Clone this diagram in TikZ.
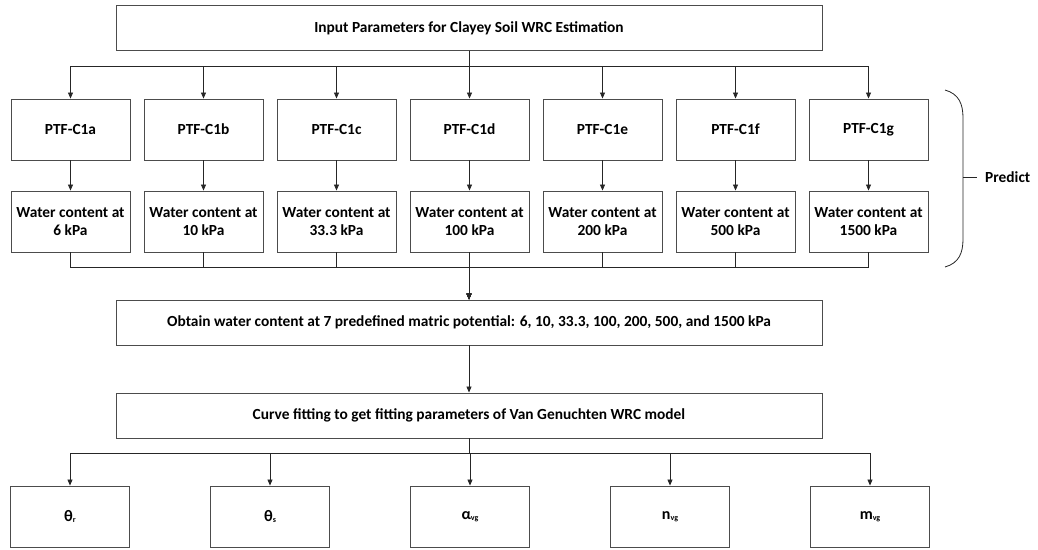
\documentclass[tikz,border=0pt]{standalone}
\usepackage{fontspec}
\setmainfont{Carlito}
\usetikzlibrary{arrows.meta,positioning}
\tikzset{>={Triangle[width=5pt,length=6pt]}}
\newcommand{\lowsub}[1]{\raisebox{-0.5pt}{\fontsize{8}{9}\selectfont #1}}
\begin{document}
\begin{tikzpicture}[x=1pt,y=-1pt,
		box/.style={draw=black!70, line width=0.9pt, minimum width=119pt,
			minimum height=61pt, inner sep=1pt, align=center,
			font=\bfseries\fontsize{15.4}{18}\selectfont},
		wide/.style={box, minimum width=706pt, minimum height=45pt},
		link/.style={draw=black!85, line width=0.8pt},
	]
	\useasboundingbox (0,0) rectangle (1038,549);
	\node[wide] (input) at (469,28) {Input Parameters for Clayey Soil WRC Estimation};
	% seven PTF models and their outputs
	\foreach \id/\kpa [count=\i from 0] in {a/6, b/10, c/33.3, d/100, e/200, f/500, g/1500}
	{
		\node[box] (ptf\id) at (70.5+133*\i,129.5) {PTF-C1\id};
		\node[box] (wc\id) at (70.5+133*\i,221.5) {Water content at\\\kpa\ kPa};
		\draw[link,->] (input.south) -- ++(0,15) -| (ptf\id.north);
		\draw[link,->] (ptf\id) -- (wc\id);
	};
	\node[wide] (obtain) at (469,322.5) {Obtain water content at 7 predefined matric potential: 6, 10, 33.3, 100, 200, 500, and 1500 kPa};
	\foreach \id in {a,...,g}
		\draw[link,->] (wc\id.south) -- ++(0,15) -| (obtain.north);
	\node[wide] (fit) at (469,415.5) {Curve fitting to get fitting parameters of Van Genuchten WRC model};
	\draw[link,->] (obtain) -- (fit);
	% Van Genuchten parameters
	\foreach \name/\sym [count=\i from 0] in {tr/θ\lowsub{r}, ts/θ\lowsub{s},
		avg/α\lowsub{vg}, nvg/n\lowsub{vg}, mvg/m\lowsub{vg}}
	{
		\node[box, font=\bfseries\fontsize{16}{18}\selectfont] (\name) at (70+200*\i,516.5) {\sym};
		\draw[link,->] (fit.south) -- ++(0,15) -| (\name.north);
	};
	% brace
	\node[font=\bfseries\fontsize{15.4}{18}\selectfont, anchor=west, inner sep=0pt] (predict) at (985,177) {Predict};
	\coordinate (tick) at (963,177);
	\draw[link] (945,90) .. controls (959,94) and (963,104) .. (963,118) -- (963,239)
		.. controls (963,253) and (959,263) .. (945,267);
	\draw[link] (tick) -- ([xshift=-8pt]predict.west);
\end{tikzpicture}
\end{document}
